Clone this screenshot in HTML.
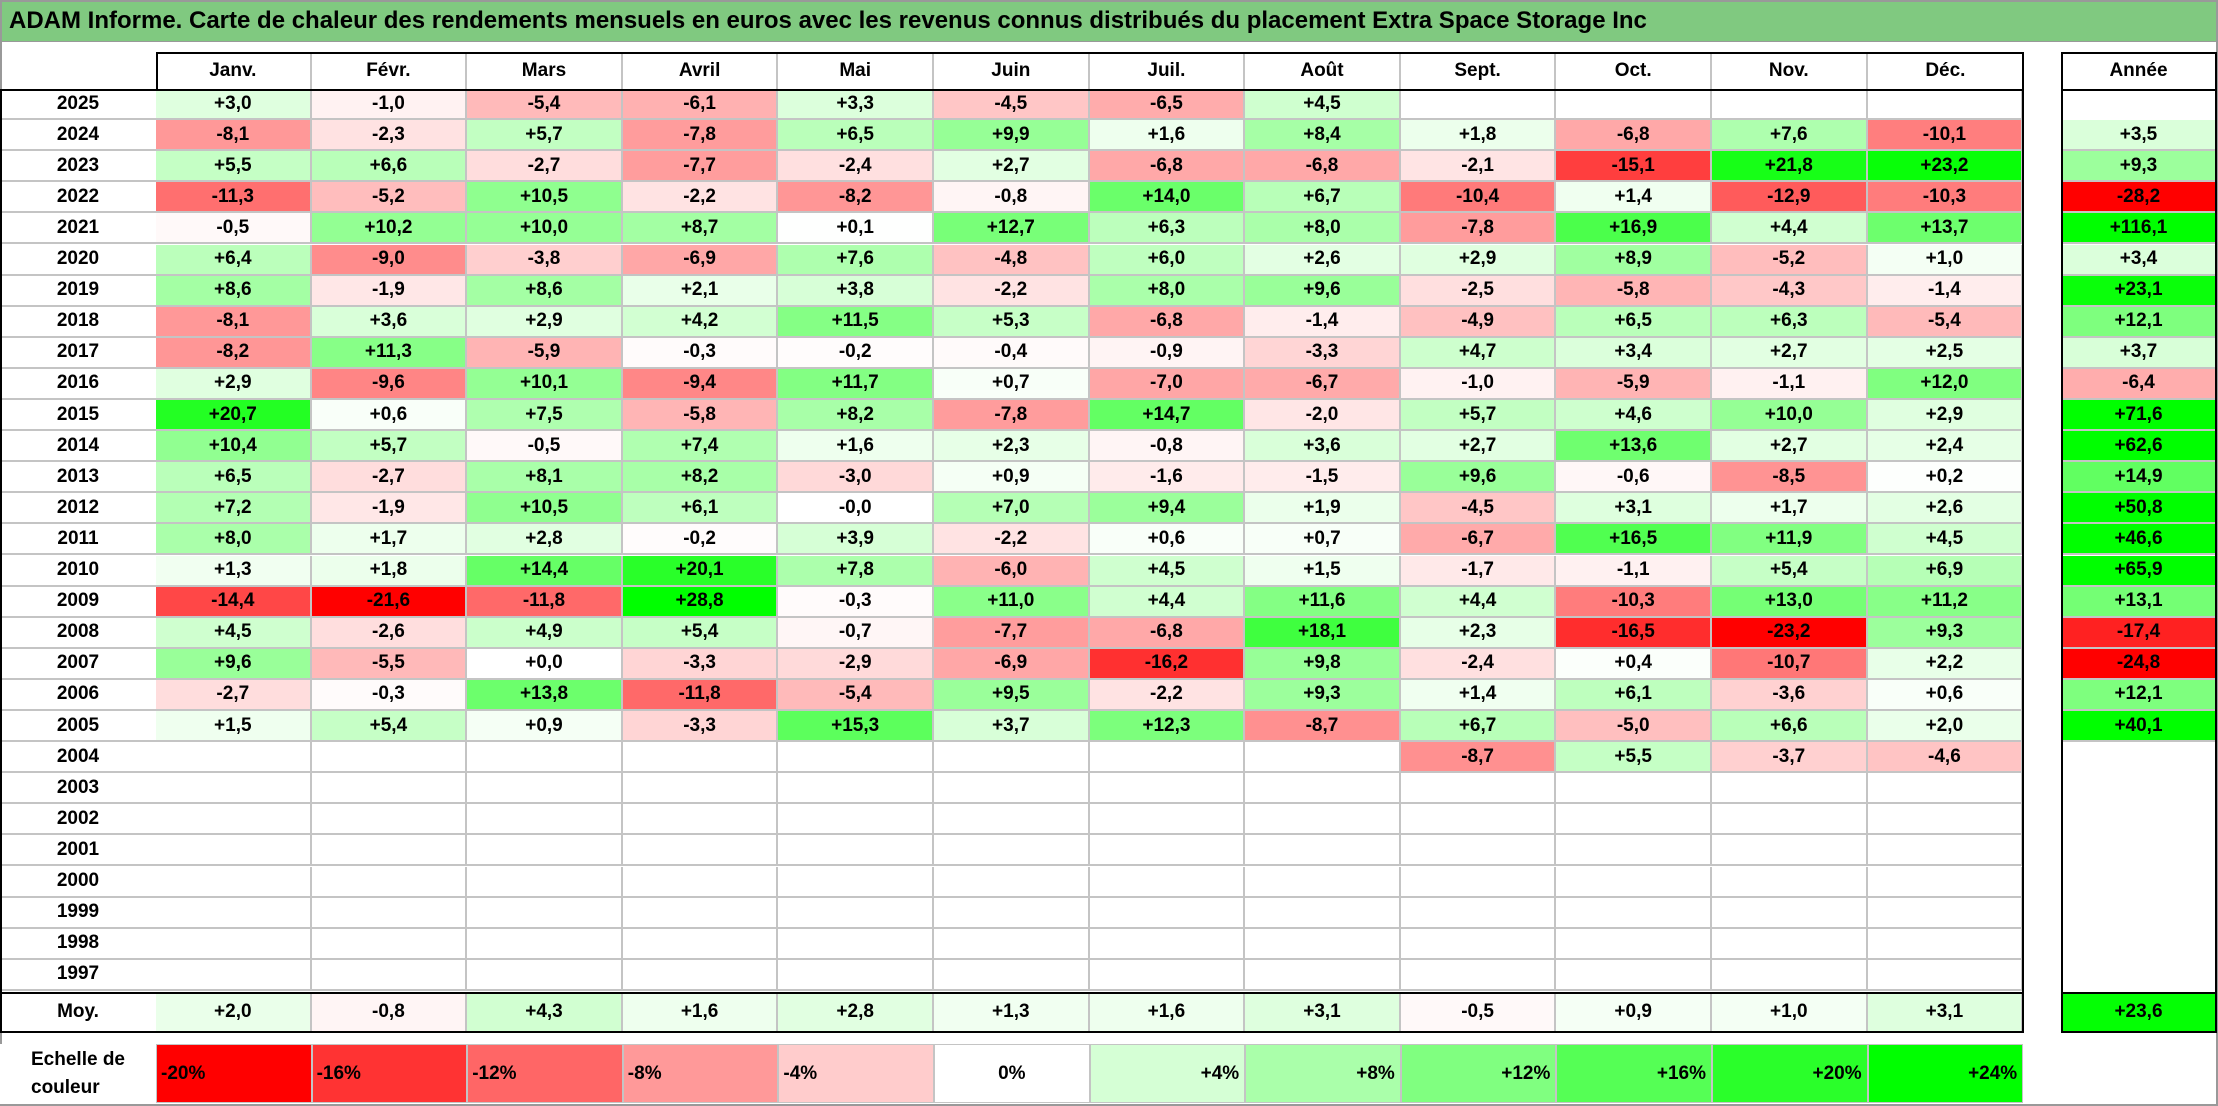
<!DOCTYPE html>
<html><head><meta charset="utf-8">
<style>
body{margin:0;background:#fff;}
#root{position:relative;width:2218px;height:1106px;overflow:hidden;font-family:"Liberation Sans",sans-serif;font-weight:bold;color:#000;background:#fff;}
.c{position:absolute;box-sizing:border-box;display:flex;align-items:center;justify-content:center;font-size:19px;}
.ln{position:absolute;background:#000;}
</style></head><body>
<div id="root">
<div style="position:absolute;left:0;top:0;width:2218px;height:42px;background:#80c980;border-bottom:1px solid #999;box-sizing:border-box;font-size:24px;line-height:42px;padding-left:9px;white-space:nowrap;">ADAM Informe. Carte de chaleur des rendements mensuels en euros avec les revenus connus distribués du placement Extra Space Storage Inc</div>
<div style="position:absolute;left:0;top:0;width:2218px;height:1106px;border:2px solid #999;box-sizing:border-box;pointer-events:none;"></div>
</div>
<script>
const months=["Janv.","Févr.","Mars","Avril","Mai","Juin","Juil.","Août","Sept.","Oct.","Nov.","Déc."];
const years=[2025,2024,2023,2022,2021,2020,2019,2018,2017,2016,2015,2014,2013,2012,2011,2010,2009,2008,2007,2006,2005,2004,2003,2002,2001,2000,1999,1998,1997];
const N=null;
const values=[
[3.0,-1.0,-5.4,-6.1,3.3,-4.5,-6.5,4.5,N,N,N,N],
[-8.1,-2.3,5.7,-7.8,6.5,9.9,1.6,8.4,1.8,-6.8,7.6,-10.1],
[5.5,6.6,-2.7,-7.7,-2.4,2.7,-6.8,-6.8,-2.1,-15.1,21.8,23.2],
[-11.3,-5.2,10.5,-2.2,-8.2,-0.8,14.0,6.7,-10.4,1.4,-12.9,-10.3],
[-0.5,10.2,10.0,8.7,0.1,12.7,6.3,8.0,-7.8,16.9,4.4,13.7],
[6.4,-9.0,-3.8,-6.9,7.6,-4.8,6.0,2.6,2.9,8.9,-5.2,1.0],
[8.6,-1.9,8.6,2.1,3.8,-2.2,8.0,9.6,-2.5,-5.8,-4.3,-1.4],
[-8.1,3.6,2.9,4.2,11.5,5.3,-6.8,-1.4,-4.9,6.5,6.3,-5.4],
[-8.2,11.3,-5.9,-0.3,-0.2,-0.4,-0.9,-3.3,4.7,3.4,2.7,2.5],
[2.9,-9.6,10.1,-9.4,11.7,0.7,-7.0,-6.7,-1.0,-5.9,-1.1,12.0],
[20.7,0.6,7.5,-5.8,8.2,-7.8,14.7,-2.0,5.7,4.6,10.0,2.9],
[10.4,5.7,-0.5,7.4,1.6,2.3,-0.8,3.6,2.7,13.6,2.7,2.4],
[6.5,-2.7,8.1,8.2,-3.0,0.9,-1.6,-1.5,9.6,-0.6,-8.5,0.2],
[7.2,-1.9,10.5,6.1,-0.0,7.0,9.4,1.9,-4.5,3.1,1.7,2.6],
[8.0,1.7,2.8,-0.2,3.9,-2.2,0.6,0.7,-6.7,16.5,11.9,4.5],
[1.3,1.8,14.4,20.1,7.8,-6.0,4.5,1.5,-1.7,-1.1,5.4,6.9],
[-14.4,-21.6,-11.8,28.8,-0.3,11.0,4.4,11.6,4.4,-10.3,13.0,11.2],
[4.5,-2.6,4.9,5.4,-0.7,-7.7,-6.8,18.1,2.3,-16.5,-23.2,9.3],
[9.6,-5.5,0.0,-3.3,-2.9,-6.9,-16.2,9.8,-2.4,0.4,-10.7,2.2],
[-2.7,-0.3,13.8,-11.8,-5.4,9.5,-2.2,9.3,1.4,6.1,-3.6,0.6],
[1.5,5.4,0.9,-3.3,15.3,3.7,12.3,-8.7,6.7,-5.0,6.6,2.0],
[N,N,N,N,N,N,N,N,-8.7,5.5,-3.7,-4.6],
[N,N,N,N,N,N,N,N,N,N,N,N],[N,N,N,N,N,N,N,N,N,N,N,N],[N,N,N,N,N,N,N,N,N,N,N,N],
[N,N,N,N,N,N,N,N,N,N,N,N],[N,N,N,N,N,N,N,N,N,N,N,N],[N,N,N,N,N,N,N,N,N,N,N,N],[N,N,N,N,N,N,N,N,N,N,N,N]
];
const annual=[N,3.5,9.3,-28.2,116.1,3.4,23.1,12.1,3.7,-6.4,71.6,62.6,14.9,50.8,46.6,65.9,13.1,-17.4,-24.8,12.1,40.1,N,N,N,N,N,N,N,N];
const monthAvg=[2.0,-0.8,4.3,1.6,2.8,1.3,1.6,3.1,-0.5,0.9,1.0,3.1];
const totalAvg=23.6;
const scaleTicks=[-20,-16,-12,-8,-4,0,4,8,12,16,20,24];

const root=document.getElementById('root');
const X0=156,CW=155.6,HY=52,RY=89,RH=31.1,MY=992,MH=39,AX=2061,AW=155;
function color(v){
  if(v===null) return '#fff';
  if(v<0){const t=Math.min(1,-v/20);const g=Math.round(255*(1-t));return `rgb(255,${g},${g})`;}
  const t=Math.min(1,v/24);const r=Math.round(255*(1-t));return `rgb(${r},255,${r})`;
}
function fmt(v){if(v===null)return '';const neg=v<0||Object.is(v,-0);return (neg?'-':'+')+Math.abs(v).toFixed(1).replace('.',',');}
function cell(x,y,w,h,txt,bg,name,extra){
  const d=document.createElement('div');
  d.className='c';
  d.style.cssText+=`left:${x}px;top:${y}px;width:${w}px;height:${h}px;background:${bg};`+(extra||'');
  d.textContent=txt;
  
  
  root.appendChild(d);return d;
}
function line(x,y,w,h,name){
  const d=document.createElement('div');
  d.className='ln';
  d.style.cssText+=`left:${x}px;top:${y}px;width:${w}px;height:${h}px;`;
  
  
  root.appendChild(d);
}
const G='border-right:2px solid #c4c4c4;border-bottom:2px solid #c4c4c4;';
months.forEach((m,i)=>cell(X0+i*CW,HY,CW,RH+6,m,'#fff','month-header',i<11?'border-right:2px solid #c4c4c4;':''));
cell(AX,HY,AW,RH+6,'Année','#fff','annual-header');
years.forEach((yr,r)=>{
  const y=RY+r*RH;
  cell(0,y,X0,RH,String(yr),'#fff','year-label','border-bottom:2px solid #c4c4c4;');
  values[r].forEach((v,i)=>cell(X0+i*CW,y,CW,RH,fmt(v),color(v),'heatmap-cell',G));
  cell(AX,y,AW,RH,fmt(annual[r]),color(annual[r]),'annual-cell',annual[r]===null?'':'border-bottom:2px solid #c4c4c4;');
});
cell(0,MY,X0,MH,'Moy.','#fff','average-label');
monthAvg.forEach((v,i)=>cell(X0+i*CW,MY,CW,MH,fmt(v),color(v),'average-cell','border-right:2px solid #c4c4c4;'));
cell(AX,MY,AW,MH,fmt(totalAvg),color(totalAvg),'annual-average-cell');
// legend
cell(0,1044,X0,60,'','#fff','legend-title','flex-direction:column;line-height:28px;').innerHTML='Echelle de<br>couleur';
scaleTicks.forEach((t,i)=>{
  const txt=(t>0?'+':'')+t+'%';
  const al=t<0?'justify-content:flex-start;padding-left:4px;':(t>0?'justify-content:flex-end;padding-right:5px;':'');
  cell(X0+i*CW,1044,CW,59,txt,color(t),'legend-swatch','border:1px solid #c4c4c4;'+al);
});
// black frame lines
const R=X0+12*CW;
line(X0,HY,R-X0,2,'header-top-border');
line(X0,HY,2,RY-HY,'header-left-border');
line(0,RY,R,2,'header-bottom-border');
line(0,RY,2,MY+MH-RY,'table-left-border');
line(R-1,HY,2,MY+MH-HY,'table-right-border');
line(0,MY,R,2,'average-top-border');
line(0,MY+MH,R+1,2,'table-bottom-border');
line(AX,HY,AW,2,'annual-top-border');
line(AX,HY,2,MY+MH-HY,'annual-left-border');
line(AX+AW-1,HY,2,MY+MH-HY,'annual-right-border');
line(AX,RY,AW,2,'annual-header-border');
line(AX,MY,AW,2,'annual-average-border');
line(AX,MY+MH,AW+1,2,'annual-bottom-border');
</script>
</body></html>
